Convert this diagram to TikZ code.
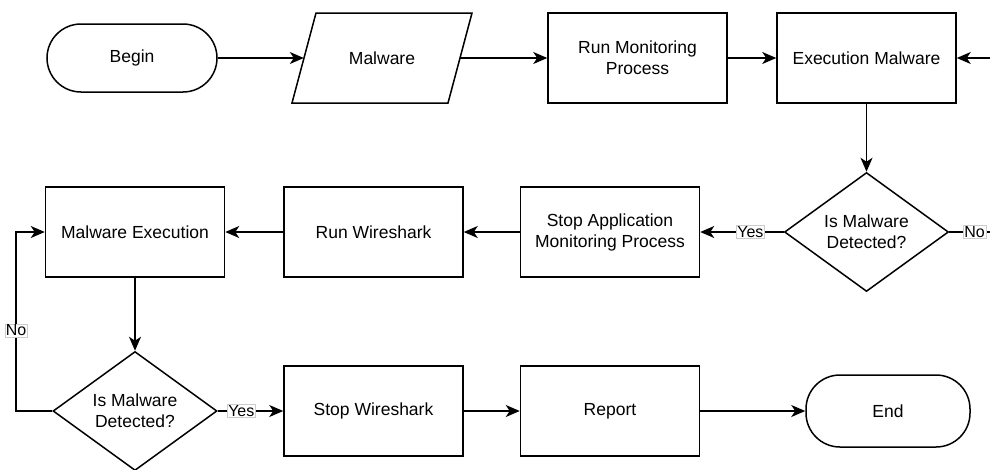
\documentclass[tikz,border=0pt]{standalone}
\usepackage{fontspec}
\setmainfont{Liberation Sans}
\usetikzlibrary{arrows.meta,shapes.geometric}
\begin{document}
\begin{tikzpicture}[x=1pt,y=-1pt,
  every node/.style={font=\fontsize{17.5}{21}\selectfont, align=center},
  procbox/.style={draw, line width=1.5pt, minimum width=179pt, minimum height=90pt, inner sep=0pt},
  terminal/.style={draw, line width=1.5pt, rounded corners=34pt, inner sep=0pt},
  decision/.style={draw, diamond, line width=1.5pt, minimum width=164pt, minimum height=119pt, inner sep=0pt},
  flow/.style={line width=1.5pt, -{Stealth[length=14pt,width=12pt,inset=4pt]}},
  edgelabel/.style={fill=white, draw=black!20, line width=0.5pt, inner sep=1pt,
    font=\fontsize{16}{18}\selectfont}
]
\useasboundingbox (0,0) rectangle (990,469);
\clip (0,0) rectangle (990,469);

% top row
\node[terminal, minimum width=170pt, minimum height=68pt] (begin) at (132,58) {Begin};
\draw[line width=1.5pt] (316,13) -- (472,13) -- (448,103) -- (292,103) -- cycle;
\node[minimum width=156pt, minimum height=90pt, inner sep=0pt] (mal) at (382,58) {Malware};
\node[procbox] (runmon) at (637.5,58) {Run Monitoring\\Process};
\node[procbox] (exec) at (866.5,58) {Execution Malware};

% middle row
\node[decision] (dec1) at (866.5,232) {Is Malware\\Detected?};
\node[procbox] (stopapp) at (610,232) {Stop Application\\Monitoring Process};
\node[procbox] (runws) at (373.5,232) {Run Wireshark};
\node[procbox] (malexec) at (135,232) {Malware Execution};

% bottom row
\node[decision] (dec2) at (135,411) {Is Malware\\Detected?};
\node[procbox] (stopws) at (373.5,411) {Stop Wireshark};
\node[procbox] (report) at (610,411) {Report};
\node[terminal, minimum width=164pt, minimum height=72pt] (end) at (888,411) {End};

\coordinate (rtlow) at (1000,232);
\coordinate (rthigh) at (1000,58);
\coordinate (lflow) at (16,411);
\coordinate (lfhigh) at (16,232);

% connectors
\draw[flow] (begin) -- (mal);
\draw[flow] (mal) -- (runmon);
\draw[flow] (runmon) -- (exec);
\draw[flow] (exec) -- (dec1);
\draw[flow] (dec1) -- node[edgelabel, pos=0.4] {Yes} (stopapp);
\draw[flow] (dec1.east) -- node[edgelabel, pos=0.5] {No} (rtlow) -- (rthigh) -- (exec.east);
\draw[flow] (stopapp) -- (runws);
\draw[flow] (runws) -- (malexec);
\draw[flow] (malexec) -- (dec2);
\draw[flow] (dec2.west) -- (lflow) -- node[edgelabel, pos=0.45] {No} (lfhigh) -- (malexec.west);
\draw[flow] (dec2) -- node[edgelabel, pos=0.36] {Yes} (stopws);
\draw[flow] (stopws) -- (report);
\draw[flow] (report) -- (end);
\end{tikzpicture}
\end{document}
